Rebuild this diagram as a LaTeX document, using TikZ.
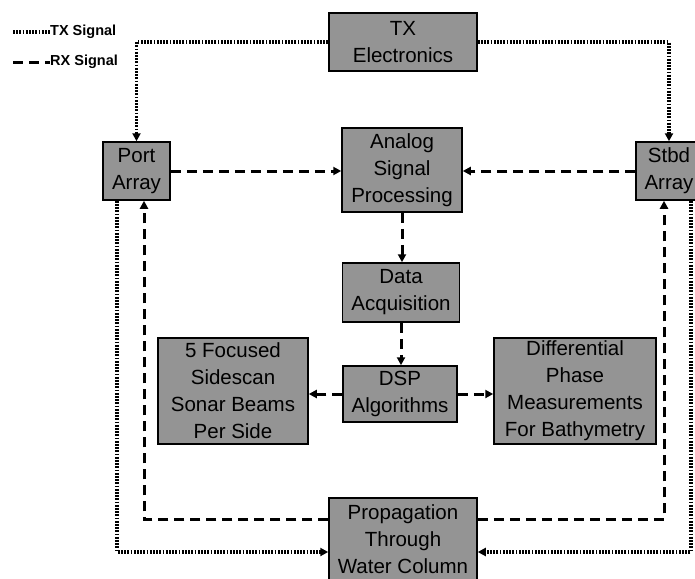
\documentclass[tikz,border=0pt]{standalone}
\usepackage{fontspec}
\setmainfont{Liberation Sans}
\usetikzlibrary{arrows.meta}
\tikzset{
    block/.style={rectangle,draw,line width=1.5pt,fill=black!42,inner sep=0pt,align=center,font=\fontsize{20.5}{27}\selectfont},
    legend/.style={font=\fontsize{14.5}{17}\selectfont\bfseries,anchor=west,inner sep=0pt},
    txsig/.style={line width=3.5pt,dash pattern=on 1.8pt off 1.4pt},
    rxsig/.style={line width=3pt,dash pattern=on 10pt off 6pt},
    directed/.style={arrows={-Triangle[length=8pt,width=8pt]}},
    }

\begin{document}
\begin{tikzpicture}[x=1pt,y=-1pt]
		\path[use as bounding box,clip] (0,0) rectangle (695,578);

		\node[block,minimum width=148pt,minimum height=58pt] (tx) at (403,42) {TX\\Electronics};
		\node[block,minimum width=120pt,minimum height=84pt] (asp) at (402,170) {Analog\\Signal\\Processing};
		\node[block,minimum width=67pt,minimum height=58pt] (port) at (136.5,171) {Port\\Array};
		\node[block,minimum width=66pt,minimum height=58pt] (stbd) at (669,171) {Stbd\\Array};
		\node[block,minimum width=117pt,minimum height=59pt] (daq) at (401,292.5) {Data\\Acquisition};
		\node[block,minimum width=114pt,minimum height=56pt] (dsp) at (400,394) {DSP\\Algorithms};
		\node[block,minimum width=150pt,minimum height=106pt] (sss) at (233,391) {5 Focused\\Sidescan\\Sonar Beams\\Per Side};
		\node[block,minimum width=162pt,minimum height=106pt] (dpm) at (575,391) {Differential\\Phase\\Measurements\\For Bathymetry};
		\node[block,minimum width=148pt,minimum height=82pt] (prop) at (403,539) {Propagation\\Through\\Water Column};

		% legend
		\coordinate (txa) at (13,32);
		\coordinate (rxa) at (13,62);
		\node[legend] (txleg) at (50,32) {TX Signal};
		\node[legend] (rxleg) at (50,62) {RX Signal};
		\draw[txsig] (txa) -- (txleg.west);
		\draw[rxsig] (rxa) -- (rxleg.west);

		% bend points round the outside
		\coordinate (rxl) at (144,519);
		\coordinate (rxr) at (664,519);
		\coordinate (txl) at (117,552);
		\coordinate (txr) at (691,552);

	\draw[txsig,directed] (tx.west) -| (port.north);
	\draw[txsig,directed] (tx.east) -| (stbd.north);
	\draw[rxsig,directed] (port.east) -- (port.east -| asp.west);
	\draw[rxsig,directed] (stbd.west) -- (stbd.west -| asp.east);
	\draw[rxsig,directed] (asp.south) -- (asp.south |- daq.north);
	\draw[rxsig,directed] (daq.south) -- (daq.south |- dsp.north);
	\draw[rxsig,directed] (dsp.west) -- (dsp.west -| sss.east);
	\draw[rxsig,directed] (dsp.east) -- (dsp.east -| dpm.west);

	\draw[rxsig,directed] (prop.west |- rxl) -- (rxl) -- (rxl |- port.south);
	\draw[rxsig,directed] (prop.east |- rxr) -- (rxr) -- (rxr |- stbd.south);
	\draw[txsig,directed] (txl |- port.south) -- (txl) -- (txl -| prop.west);
	\draw[txsig,directed] (txr |- stbd.south) -- (txr) -- (txr -| prop.east);
    \end{tikzpicture}
\end{document}
